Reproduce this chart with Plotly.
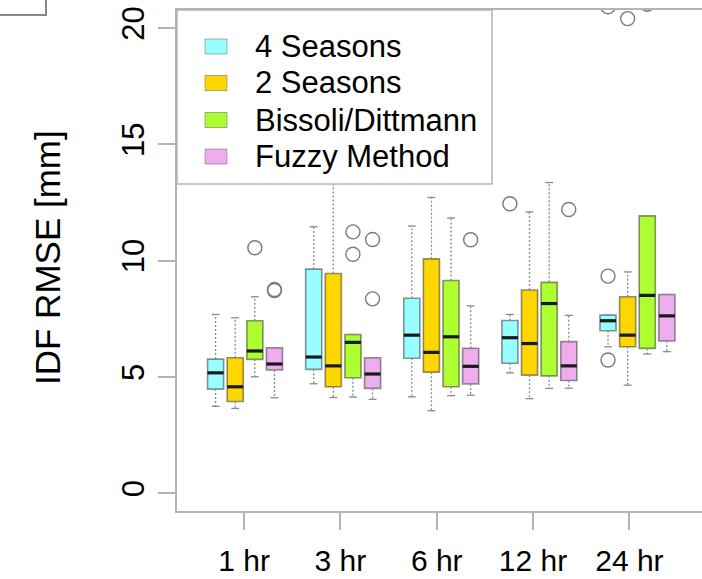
import plotly.graph_objects as go

durations = ["1 hr", "3 hr", "6 hr", "12 hr", "24 hr"]
methods = ["4 Seasons", "2 Seasons", "Bissoli/Dittmann", "Fuzzy Method"]
colors = ["#97FFFF", "#FFD700", "#ADFF2F", "#EEAEEE"]
tick_pos = [2.45, 7.36, 12.27, 17.18, 22.09]

# box statistics, one row per method, one column per duration
whisk_lo = [[3.74, 4.71, 4.15, 5.18, 6.30],
            [3.65, 4.12, 3.55, 4.07, 4.65],
            [5.01, 4.14, 4.20, 4.51, 5.99],
            [4.11, 4.04, 4.22, 4.52, 6.09]]
q1 = [[4.48, 5.33, 5.81, 5.59, 6.99],
      [3.95, 4.58, 5.21, 5.08, 6.30],
      [5.76, 4.97, 4.58, 5.05, 6.23],
      [5.30, 4.51, 4.70, 4.85, 6.55]]
median = [[5.18, 5.86, 6.80, 6.69, 7.42],
          [4.58, 5.48, 6.06, 6.44, 6.80],
          [6.12, 6.49, 6.73, 8.16, 8.51],
          [5.56, 5.13, 5.46, 5.48, 7.63]]
q3 = [[5.77, 9.64, 8.39, 7.43, 7.66],
      [5.83, 9.45, 10.08, 8.74, 8.45],
      [7.42, 6.83, 9.15, 9.07, 11.93],
      [6.26, 5.83, 6.24, 6.52, 8.55]]
whisk_hi = [[7.69, 11.46, 11.49, 7.69, 7.66],
            [7.55, 15.00, 12.72, 12.10, 9.52],
            [8.45, 6.83, 11.84, 13.36, 11.93],
            [6.26, 5.83, 8.06, 7.65, 8.55]]
outliers = [[[], [], [], [12.45], [9.34, 5.73, 20.92]],
            [[], [], [], [], [20.41]],
            [[10.56], [11.24, 10.28], [], [], [21.03]],
            [[8.72, 8.76], [10.91, 8.36], [10.90], [12.20], []]]

FONT = "Liberation Sans, Arial, sans-serif"
AXCOL = "#b4b4b4"
box_w = 0.82
staple = 0.2

fig = go.Figure()
ng = len(durations)
for s, m in enumerate(methods):
    xs = [5 * g + s + 1 for g in range(ng)]
    wx, wy, sx, sy = [], [], [], []
    for g in range(ng):
        x = xs[g]
        wx += [x, x, None, x, x, None]
        wy += [q3[s][g], whisk_hi[s][g], None, q1[s][g], whisk_lo[s][g], None]
        sx += [x - staple, x + staple, None, x - staple, x + staple, None]
        sy += [whisk_hi[s][g], whisk_hi[s][g], None, whisk_lo[s][g], whisk_lo[s][g], None]
    fig.add_trace(go.Scatter(x=wx, y=wy, mode="lines", hoverinfo="skip", showlegend=False,
                             line=dict(color="#8a8a8a", width=1.3, dash="2px,2px")))
    fig.add_trace(go.Scatter(x=sx, y=sy, mode="lines", hoverinfo="skip", showlegend=False,
                             line=dict(color="#8a8a8a", width=1.3)))
    fig.add_trace(go.Bar(x=xs, y=[q3[s][g] - q1[s][g] for g in range(ng)], base=q1[s],
                         width=box_w, name=m, showlegend=False,
                         marker=dict(color=colors[s], line=dict(color="rgba(40,40,40,0.5)", width=1.6))))
    mx, my = [], []
    for g in range(ng):
        mx += [xs[g] - box_w / 2, xs[g] + box_w / 2, None]
        my += [median[s][g], median[s][g], None]
    fig.add_trace(go.Scatter(x=mx, y=my, mode="lines", hoverinfo="skip", showlegend=False,
                             line=dict(color="#1a1a1a", width=3.2)))
    ox, oy = [], []
    for g in range(ng):
        for v in outliers[s][g]:
            ox.append(xs[g])
            oy.append(v)
    fig.add_trace(go.Scatter(x=ox, y=oy, mode="markers", showlegend=False,
                             marker=dict(symbol="circle-open", size=14, color="#7a7a7a",
                                         line=dict(width=1.4))))

# pixel helpers for legend / decoration placement
L, R, T, B = 177, 702, 10, 511
def px(x):
    return (x - L) / (R - L)
def py(y):
    return (B - y) / (B - T)

shapes = []
annotations = []
# legend box
shapes.append(dict(type="rect", xref="paper", yref="paper", x0=px(177), x1=px(492),
                   y0=py(184), y1=py(10), fillcolor="white",
                   line=dict(color=AXCOL, width=1.5), layer="above"))
row_y = [46.5, 83, 120, 156.5]
for i, m in enumerate(methods):
    shapes.append(dict(type="rect", xref="paper", yref="paper", x0=px(205), x1=px(227),
                       y0=py(row_y[i] + 7.5), y1=py(row_y[i] - 7.5), fillcolor=colors[i],
                       line=dict(color="rgba(40,40,40,0.35)", width=1), layer="above"))
    annotations.append(dict(xref="paper", yref="paper", x=px(253), y=py(row_y[i]),
                            text=m, showarrow=False, xanchor="left", yanchor="middle",
                            font=dict(family=FONT, size=31, color="black")))
# axis title
annotations.append(dict(xref="paper", yref="paper", x=px(47), y=py(258), text="IDF RMSE [mm]",
                        showarrow=False, textangle=-90, xanchor="center", yanchor="middle",
                        font=dict(family=FONT, size=35, color="black")))
# fragment of neighbouring panel box at top-left
shapes.append(dict(type="rect", xref="paper", yref="paper", x0=px(-20), x1=px(46),
                   y0=py(15), y1=py(-20), line=dict(color="#888888", width=2),
                   fillcolor="rgba(0,0,0,0)", layer="above"))

fig.update_layout(
    width=702, height=579,
    margin=dict(l=L, r=702 - R, t=T, b=579 - B, autoexpand=False),
    paper_bgcolor="white", plot_bgcolor="white",
    barmode="overlay", showlegend=False,
    shapes=shapes, annotations=annotations,
    xaxis=dict(range=[-0.967, 25.79], tickvals=tick_pos, ticktext=durations,
               ticks="outside", ticklen=17, tickwidth=1.5, tickcolor=AXCOL,
               showline=True, linecolor=AXCOL, linewidth=1.5, mirror=True,
               showgrid=False, zeroline=False, ticklabelstandoff=5, automargin=False,
               tickfont=dict(family=FONT, size=30, color="black")),
    yaxis=dict(range=[-0.76, 20.78], tickvals=[0, 5, 10, 15, 20],
               ticks="outside", ticklen=17, tickwidth=1.5, tickcolor=AXCOL,
               showline=True, linecolor=AXCOL, linewidth=1.5, mirror=False,
               showgrid=False, zeroline=False, tickangle=-90, ticklabelstandoff=2,
               automargin=False,
               tickfont=dict(family=FONT, size=31, color="black")),
)

fig.write_html("out.html")
